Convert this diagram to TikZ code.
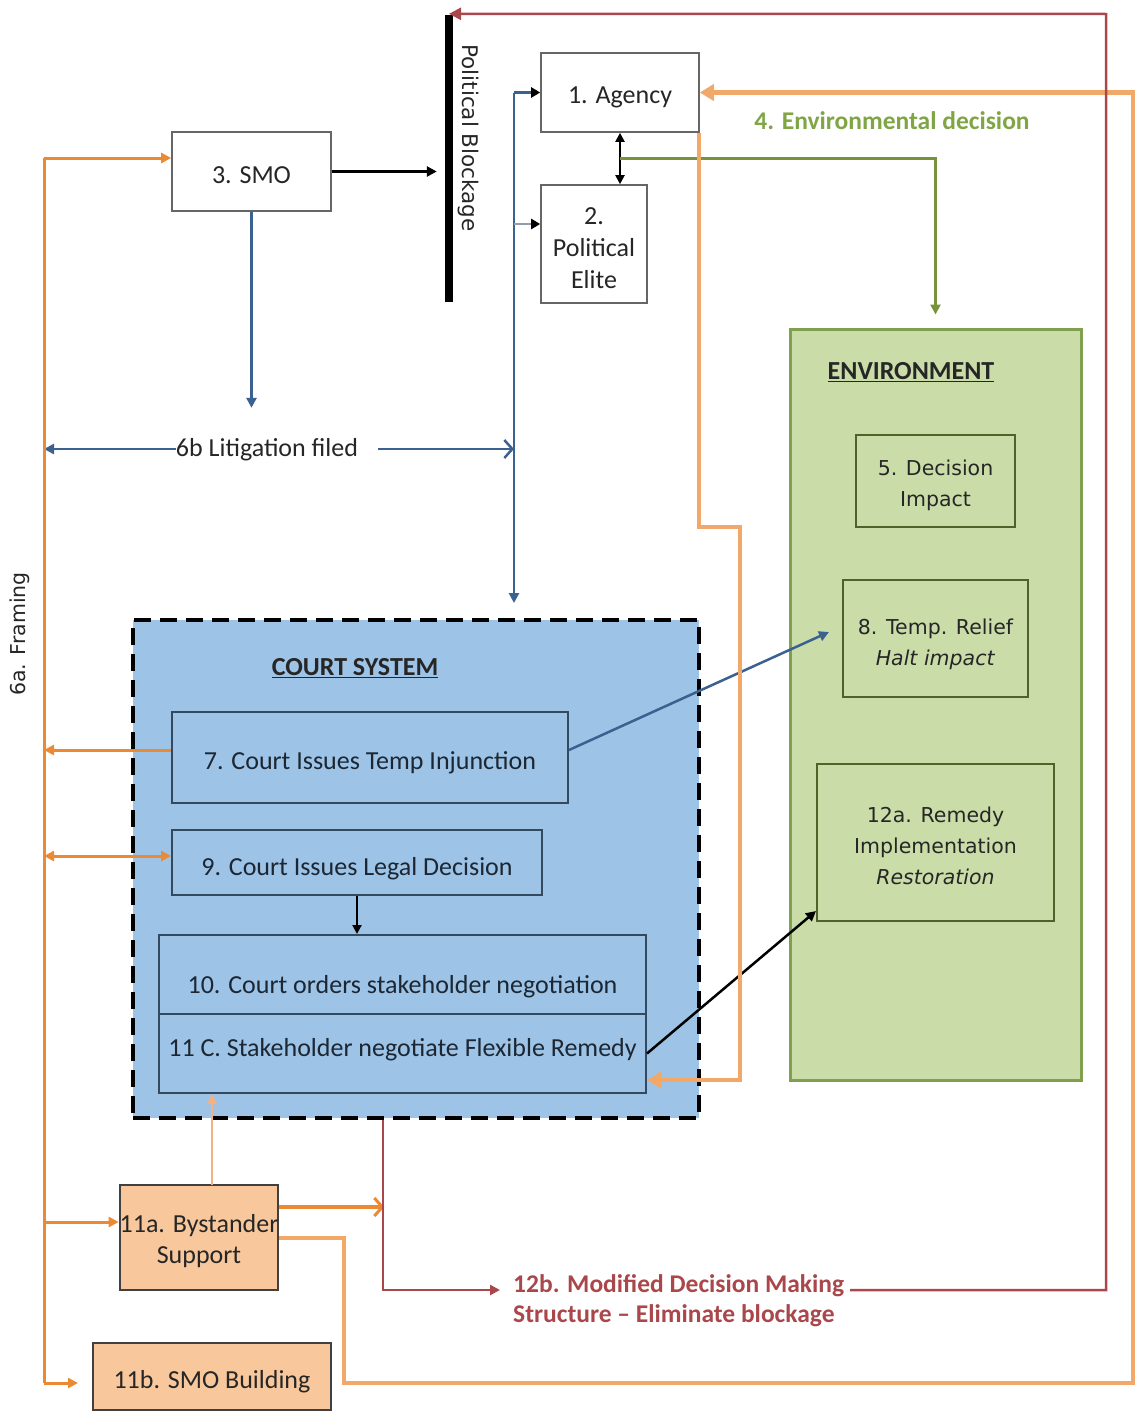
\documentclass[tikz,border=0pt]{standalone}
\usepackage{fontspec}
\setmainfont{Carlito}
\newfontfamily\dvs{DejaVu Sans}
\usetikzlibrary{arrows.meta,calc}
\definecolor{orT}{HTML}{EC8A34}
\definecolor{orL}{HTML}{F2A868}
\definecolor{orP}{HTML}{F4B183}
\definecolor{blu}{HTML}{3A6190}
\definecolor{grn}{HTML}{77933C}
\definecolor{grT}{HTML}{7FA545}
\definecolor{rdd}{HTML}{A9474B}
\definecolor{courtfill}{HTML}{9DC3E6}
\definecolor{envfill}{HTML}{CADDA8}
\definecolor{envbord}{HTML}{80A050}
\definecolor{ebord}{HTML}{4F6228}
\definecolor{cbord}{HTML}{34495E}
\definecolor{ctext}{HTML}{1C2733}
\definecolor{peach}{HTML}{F8C89C}
% text block lowered by #1 inside a node, keeping the node centred on the box
\newcommand\mlt[2][12pt]{\raisebox{-#1}[0pt][0pt]{\begin{tabular}{@{}c@{}}#2\end{tabular}}}
\tikzset{
  lbl/.style={font=\fontsize{26}{31}\selectfont, text=black!85, align=center, inner sep=0pt},
  wbox/.style={lbl, draw=black!60, line width=1.6pt, fill=white},
  cbox/.style={lbl, draw=cbord, line width=2pt, text=ctext},
  ebox/.style={font=\dvs\fontsize{20.5}{31}\selectfont, draw=ebord, line width=2pt, align=center, inner sep=0pt, text=black!85},
  pbox/.style={lbl, draw=black!75, line width=2pt, fill=peach},
  courtbox/.style={draw=black, line width=4pt, dash pattern=on 17pt off 9pt, fill=courtfill, inner sep=0pt},
  envbox/.style={draw=envbord, line width=3pt, fill=envfill, inner sep=0pt},
  tri/.style={-{Triangle[length=10pt,width=10pt]}},
  blk/.style={draw=black, line width=3pt, tri},
  bl/.style={draw=blu, line width=2.5pt, tri},
  ort/.style={draw=orT, line width=3pt, tri},
  orl/.style={draw=orL, line width=4.5pt, -{Triangle[length=14pt,width=16pt]}},
  gr/.style={draw=grn, line width=3pt, tri},
  rd/.style={draw=rdd, line width=2.5pt, tri},
  btitle/.style={lbl, font=\bfseries\fontsize{26}{30}\selectfont},
}
\begin{document}
\begin{tikzpicture}[x=1pt,y=-1pt]
\useasboundingbox (0,0) rectangle (1136,1416);
% containers
\node[courtbox, minimum width=566pt, minimum height=498pt] (court) at (416,869) {};
\node[envbox, minimum width=291pt, minimum height=751pt] (env) at (935.5,704.5) {};
\node[btitle] (courtT) at (355,668) {\underline{COURT SYSTEM}};
\node[btitle] (envT) at (911,372) {\underline{ENVIRONMENT}};

% top nodes
\node[wbox, minimum width=158pt, minimum height=79pt] (agency) at (620,92.5) {\mlt[11.5pt]{1. Agency}};
\node[wbox, font=\fontsize{26}{32}\selectfont, minimum width=106pt, minimum height=118pt] (elite) at (594,244) {\mlt{2.\\Political\\Elite}};
\node[wbox, minimum width=159pt, minimum height=79pt] (smo) at (251.5,171.5) {\mlt{3. SMO}};
\node[fill=black, inner sep=0pt, minimum width=8pt, minimum height=287pt] (bar) at (449,158.5) {};
\node[font=\dvs\fontsize{21.5}{24}\selectfont, rotate=-90, text=black!85] (pbT) at (468,138) {Political Blockage};
\node[lbl, font=\bfseries\fontsize{25.5}{30}\selectfont, text=grT] (envdec) at (892,121) {4. Environmental decision};
\node[lbl] (lit) at (267,450) {6b Litigation filed};
\node[font=\dvs\fontsize{20.5}{22}\selectfont, rotate=90, text=black!85] (frT) at (20,634) {6a. Framing};

% court boxes
\node[cbox, minimum width=396pt, minimum height=91pt] (box7) at (370,757.5) {\mlt{7. Court Issues Temp Injunction}};
\node[cbox, minimum width=370pt, minimum height=65pt] (box9) at (357,862.5) {\mlt[13pt]{9. Court Issues Legal Decision}};
\node[cbox, minimum width=487pt, minimum height=79pt] (box10) at (402.5,974.5) {\mlt[19.5pt]{10. Court orders stakeholder negotiation}};
\node[cbox, minimum width=487pt, minimum height=79pt] (box11) at (402.5,1053.5) {\mlt[3.5pt]{11 C. Stakeholder negotiate Flexible Remedy}};

% environment boxes
\node[ebox, minimum width=159pt, minimum height=92pt] (box5) at (935.5,481) {\mlt[9pt]{5. Decision\\Impact}};
\node[ebox, minimum width=185pt, minimum height=117pt] (box8) at (935.5,638.5) {\mlt[10pt]{8. Temp. Relief\\\textit{Halt impact}}};
\node[ebox, minimum width=237pt, minimum height=157pt] (box12a) at (935.5,842.5) {\mlt[10pt]{12a. Remedy\\Implementation\\\textit{Restoration}}};

% bottom nodes
\node[pbox, minimum width=158pt, minimum height=105pt] (b11a) at (199,1237.5) {\mlt[11pt]{11a. Bystander\\Support}};
\node[pbox, minimum width=238pt, minimum height=67pt] (b11b) at (212,1376.5) {\mlt{11b. SMO Building}};
\node[lbl, font=\bfseries\fontsize{25.5}{30}\selectfont, text=rdd, align=left, anchor=north west] (t12b) at (513,1274) {12b. Modified Decision Making\\Structure -- Eliminate blockage};

% --- connectors ---
% SMO to blockage
\draw[blk] (smo.east) -- ($(smo.east -| bar.west)+(-8,0)$);
% agency <-> elite
\draw[draw=black, line width=2pt, {Triangle[length=9pt,width=9pt]}-{Triangle[length=9pt,width=9pt]}] (agency.south) -- (agency.south |- elite.north);
% green decision line
\coordinate (g0) at ($(agency.south)!0.5!(agency.south |- elite.north)$);
\coordinate (g1) at ($(env.north)+(0,-13)$);
\draw[gr] (g0) -- (g0 -| env.north) -- (g1);

% blue trunk
\coordinate (tTop) at (514,92.5);
\coordinate (tE) at (514,224);
\coordinate (tLit) at (514,449);
\coordinate (tBot) at (514,603);
\draw[bl] (tTop) -- (tBot);
\draw[draw=blu, line width=2.5pt, -{Triangle[length=9pt,width=10pt,color=black]}] (tTop) -- (agency.west);
\draw[draw=blu!60!black!50, line width=2.5pt, -{Triangle[length=9pt,width=10pt,color=black]}] (tE) -- (tE -| elite.west);
% SMO down
\draw[bl] (smo.south) -- ($(smo.south)+(0,196)$);
% litigation arrows
\coordinate (fTop) at (44,158);
\coordinate (fBot) at (44,1383);
\draw[bl] (lit.west |- tLit) -- (tLit -| fTop);
\draw[draw=blu, line width=2.5pt, -{Straight Barb[length=8pt,width=18pt,line width=2.5pt]}] ([xshift=20pt]lit.east |- tLit) -- (tLit);

% framing line
\draw[draw=orT, line width=3pt] (fTop) -- (fBot);
\draw[ort] (fTop) -- (fTop -| smo.west);
\coordinate (a7) at ($(box7.west)+(0,-7.5)$);
\draw[ort] (a7) -- (a7 -| fTop);
\coordinate (a9) at ($(box9.west)+(0,-6.5)$);
\draw[draw=orT, line width=3pt, {Triangle[length=10pt,width=10pt]}-{Triangle[length=10pt,width=10pt]}] (a9 -| fTop) -- (a9);
\coordinate (a11) at ($(b11a.west)+(0,-15.5)$);
\draw[ort] (a11 -| fTop) -- (a11);
\draw[ort] (fBot) -- ($(b11b.west |- fBot)+(-14,0)$);

% court internal
\draw[draw=black, line width=2pt, -{Triangle[length=9pt,width=9pt]}] (box9.south) -- (box9.south |- box10.north);
\draw[bl] ($(box7.east)+(0,-7.5)$) -- ($(box8.west)+(-13,-6.5)$);
\draw[draw=black, line width=2.5pt, tri] (box11.east) -- ([yshift=11pt]box12a.south west);

% orange loop from agency to 11
\coordinate (oB0) at ($(agency.south east)+(-1,0)$);
\coordinate (oB1) at (740,527);
\coordinate (oB2) at (740,1080);
\draw[orl] (oB0) |- (oB1) -- (oB2) -- (oB2 -| box11.east);

% orange loop from 11a to agency
\coordinate (oA) at ($(b11a.east)+(0,0.5)$);
\coordinate (oA1) at (344,1383);
\coordinate (oA2) at (1133,1383);
\draw[orl] (oA) -| (oA1) -- (oA2) |- (agency.east);

% 11a to court and to red line
\coordinate (u0) at (212,1185);
\draw[draw=orP, line width=2.5pt, tri] (u0) -- (u0 |- box11.south);
\coordinate (u1) at ($(b11a.east)+(0,-30.5)$);
\draw[draw=orT, line width=3.5pt, -{Straight Barb[length=8pt,width=18pt,line width=3pt]}] (u1) -- ++(105,0);

% red modified structure
\coordinate (r0) at ($(court.south)+(-33,0)$);
\coordinate (r1) at (500,1290);
\draw[rd] (r0) |- (r1);
\coordinate (r2) at (850,1290);
\coordinate (r3) at (1106,14);
\draw[rd, -{Triangle[length=12pt,width=12pt]}] (r2) -| (r3) -- ($(bar.north)+(0,-1)$);
\end{tikzpicture}
\end{document}
